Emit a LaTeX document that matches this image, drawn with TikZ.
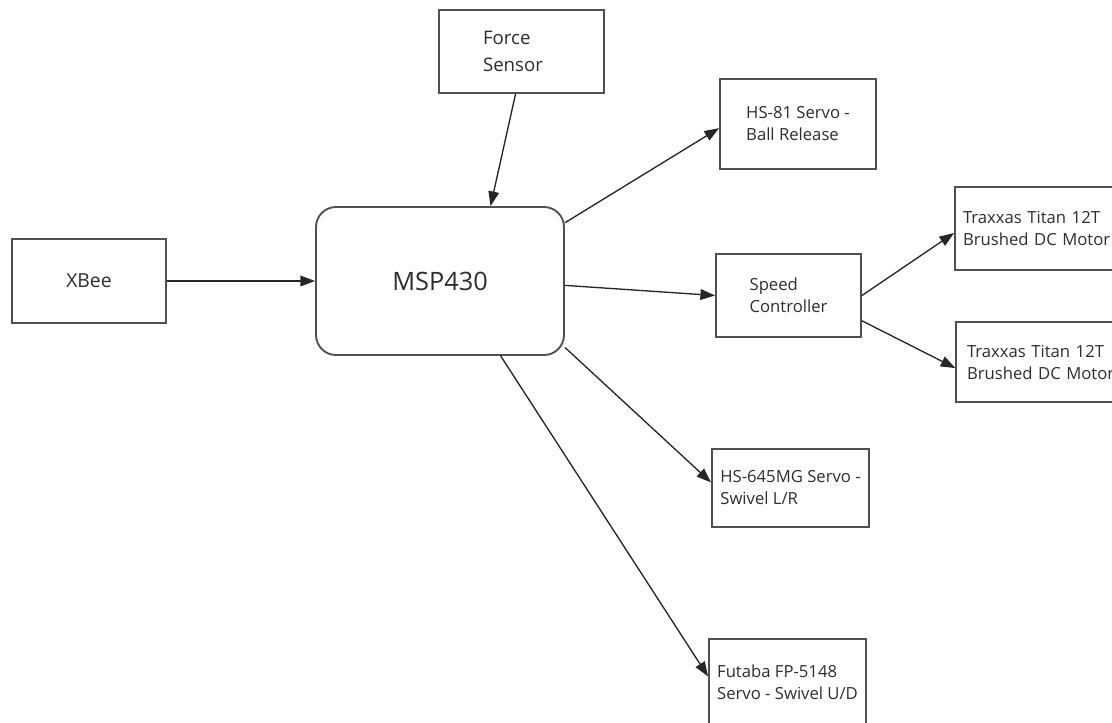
\documentclass[tikz,border=0pt]{standalone}
\usepackage{fontspec}
\setmainfont{Open Sans}
\usepackage{tikz}
\usetikzlibrary{arrows.meta,positioning,calc}
\definecolor{edgegray}{RGB}{80,80,80}
\definecolor{inkgray}{RGB}{45,45,45}

\begin{document}
\begin{tikzpicture}[
    x=0.75pt, y=-0.75pt,
    every node/.style={font=\fontsize{12.5}{16.5}\selectfont, text=inkgray},
    part/.style={rectangle, draw=edgegray, line width=1.4pt, align=left},
    mcu/.style={rectangle, rounded corners=15pt, draw=edgegray, line width=1.4pt,
                minimum width=186pt, minimum height=111pt, font=\fontsize{19}{22}\selectfont},
    arrow/.style={-{Triangle[length=11pt, width=8pt]}, line width=1pt, color=black!85}
]

% canvas
\path[use as bounding box, clip] (0,0) rectangle (1112,722);

% Centre
\node[mcu] (msp) at (440,281) {MSP430};

% Inputs
\node[part, minimum width=115.5pt, minimum height=63pt, font=\fontsize{14.5}{18}\selectfont]
    (xbee) at (89,281) {XBee};
\node[part, text width=57.75pt, inner xsep=33pt, minimum height=62.25pt,
      font=\fontsize{14}{20}\selectfont]
    (force) at (521.5,51.5) {Force\\Sensor};

% Outputs
\node[part, minimum width=117pt, minimum height=67.5pt]  (hs81)   at (798,124)   {HS-81 Servo -\\Ball Release};
\node[part, minimum width=108.75pt, minimum height=62.25pt] (speed) at (788.5,295.5) {Speed\\Controller};
\node[part, text width=115.5pt, inner xsep=6pt, minimum height=62.25pt]
    (motora) at (1040,228.5) {Traxxas Titan 12T\\Brushed DC Motor};
\node[part, text width=112.5pt, inner xsep=8pt, minimum height=60pt]
    (motorb) at (1042,362)   {Traxxas Titan 12T\\Brushed DC Motor};
\node[part, minimum width=117.75pt, minimum height=58.5pt] (hs645) at (790.5,488)  {HS-645MG Servo -\\Swivel L/R};
\node[part, minimum width=117.75pt, minimum height=64.5pt] (futaba) at (787.5,682) {Futaba FP-5148\\Servo - Swivel U/D};

% Arrows in
\draw[arrow] (xbee.east) -- (msp.west);
\draw[arrow] (force.262) -- (msp.56);

% Arrows out
\draw[arrow] (msp.25)  -- (hs81.183);
\draw[arrow] (msp.358) -- (speed.west);
\draw[arrow] (msp.332) -- (hs645.176);
\draw[arrow] (msp.309) -- (futaba.176);
\draw[arrow] (speed.east) -- (motora.183);
\draw[arrow] (speed.341)  -- (motorb.184);

\end{tikzpicture}
\end{document}
